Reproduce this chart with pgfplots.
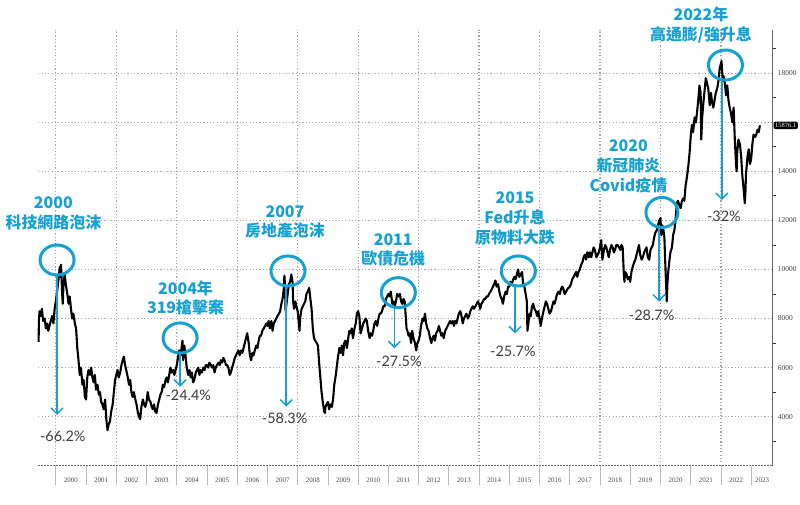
\documentclass[border=0pt]{standalone}
\usepackage{pgfplots}
\pgfplotsset{compat=1.18}
\usepackage{pgfplotstable}
\usetikzlibrary{arrows.meta}
\usepackage{fontspec}
\setmainfont{Liberation Serif}
\newfontfamily\cjk{Noto Sans CJK TC}
\newfontfamily\pctfont{Lato}
\definecolor{ann}{RGB}{20,160,210}
\definecolor{pctgray}{RGB}{60,60,60}
\definecolor{gridgray}{RGB}{165,165,165}

\pgfplotstableread{
x y
1999.43 7050
1999.44 7900
1999.46 8300
1999.50 8100
1999.54 8400
1999.58 7900
1999.63 8000
1999.67 7600
1999.71 7800
1999.75 7500
1999.79 7700
1999.83 7900
1999.88 8100
1999.92 7800
1999.96 8400
2000.00 8700
2000.04 9100
2000.08 9500
2000.13 10100
2000.15 9700
2000.17 10200
2000.21 9000
2000.23 8600
2000.25 9300
2000.29 9800
2000.33 9400
2000.38 9000
2000.42 8600
2000.46 8900
2000.50 8400
2000.54 8000
2000.58 8200
2000.63 7800
2000.67 7600
2000.71 6800
2000.75 6300
2000.79 5700
2000.83 6000
2000.88 5300
2000.92 5500
2000.96 4800
2001.00 4700
2001.04 5600
2001.08 5900
2001.13 5700
2001.17 6000
2001.21 5600
2001.25 5400
2001.29 5700
2001.33 5100
2001.38 5300
2001.42 4900
2001.46 5000
2001.50 4600
2001.54 4500
2001.58 4300
2001.63 4700
2001.67 3900
2001.71 3450
2001.75 3700
2001.79 3800
2001.83 4200
2001.88 4500
2001.92 5000
2001.96 5500
2002.00 5700
2002.04 5900
2002.08 5600
2002.13 5800
2002.17 6100
2002.21 6300
2002.25 6450
2002.29 6100
2002.33 5900
2002.38 5600
2002.42 5300
2002.46 5500
2002.50 5000
2002.54 4800
2002.58 5000
2002.63 4700
2002.67 4500
2002.71 4200
2002.75 4000
2002.79 3900
2002.83 4400
2002.88 4700
2002.92 4500
2002.96 4400
2003.00 4600
2003.04 5000
2003.08 4700
2003.13 4600
2003.17 4400
2003.21 4300
2003.25 4500
2003.29 4200
2003.33 4150
2003.38 4500
2003.42 4700
2003.46 4900
2003.50 5000
2003.54 5300
2003.58 5200
2003.63 5500
2003.67 5600
2003.71 5400
2003.75 5700
2003.79 6000
2003.83 5800
2003.88 5900
2003.92 5700
2003.96 5900
2004.00 6100
2004.04 6400
2004.08 6700
2004.13 6500
2004.17 6900
2004.19 7100
2004.21 6300
2004.23 6800
2004.25 6900
2004.29 6500
2004.33 6000
2004.38 5700
2004.42 5900
2004.46 5600
2004.50 5800
2004.54 5400
2004.58 5500
2004.63 5800
2004.67 5900
2004.71 6000
2004.75 5700
2004.79 5900
2004.83 5800
2004.88 6000
2004.92 5900
2004.96 6100
2005.00 6100
2005.04 6000
2005.08 6200
2005.13 6100
2005.17 6000
2005.21 6100
2005.25 5800
2005.29 6000
2005.33 6100
2005.38 6200
2005.42 6100
2005.46 6300
2005.50 6200
2005.54 6400
2005.58 6300
2005.63 6100
2005.67 6100
2005.71 6000
2005.75 5700
2005.79 5800
2005.83 6000
2005.88 6200
2005.92 6400
2005.96 6500
2006.00 6600
2006.04 6700
2006.08 6500
2006.13 6700
2006.17 6600
2006.21 6800
2006.25 7000
2006.29 7200
2006.33 7400
2006.38 7000
2006.42 6500
2006.46 6300
2006.50 6600
2006.54 6500
2006.58 6700
2006.63 6900
2006.67 6800
2006.71 7100
2006.75 7300
2006.79 7300
2006.83 7500
2006.88 7600
2006.92 7700
2006.96 7800
2007.00 7700
2007.04 7900
2007.08 7600
2007.13 7900
2007.17 7500
2007.21 7800
2007.25 7900
2007.29 8000
2007.33 8100
2007.38 8200
2007.42 8300
2007.46 8600
2007.50 8800
2007.54 9200
2007.56 9750
2007.58 9400
2007.60 8300
2007.63 8600
2007.67 9000
2007.71 9400
2007.75 9500
2007.79 9800
2007.83 9500
2007.85 8700
2007.88 8400
2007.92 8700
2007.96 8500
2008.00 8300
2008.04 7800
2008.06 7500
2008.08 8000
2008.13 8400
2008.17 8500
2008.21 8600
2008.25 8700
2008.29 9000
2008.33 9100
2008.38 9250
2008.42 8800
2008.46 8400
2008.50 7600
2008.54 7200
2008.58 7100
2008.63 7000
2008.67 6900
2008.71 6200
2008.75 5600
2008.79 5000
2008.83 4600
2008.88 4200
2008.90 4150
2008.92 4400
2008.96 4500
2009.00 4600
2009.04 4300
2009.08 4500
2009.13 4400
2009.17 4700
2009.21 5300
2009.25 5600
2009.29 6000
2009.33 6400
2009.38 6800
2009.42 6600
2009.46 6900
2009.50 6500
2009.54 7000
2009.58 7100
2009.63 6800
2009.67 7200
2009.71 7500
2009.75 7400
2009.79 7600
2009.83 7200
2009.88 7600
2009.92 7800
2009.96 8200
2010.00 8300
2010.04 8100
2010.08 7400
2010.13 7600
2010.17 7800
2010.21 7900
2010.25 8000
2010.29 7900
2010.33 7500
2010.38 7200
2010.42 7400
2010.46 7300
2010.50 7500
2010.54 7800
2010.58 7900
2010.63 7700
2010.67 8000
2010.71 8200
2010.75 8200
2010.79 8300
2010.83 8500
2010.88 8500
2010.92 8800
2010.96 8900
2011.00 9000
2011.04 8900
2011.08 9100
2011.13 8600
2011.17 8700
2011.21 8500
2011.25 8700
2011.29 9000
2011.33 8900
2011.38 9000
2011.42 8700
2011.46 8600
2011.50 8800
2011.54 8700
2011.58 8000
2011.60 7600
2011.63 7500
2011.67 7300
2011.71 7400
2011.75 7000
2011.79 7500
2011.83 7200
2011.88 7000
2011.92 6700
2011.96 7000
2012.00 7100
2012.04 7300
2012.08 7700
2012.13 8000
2012.17 7900
2012.21 8200
2012.25 7800
2012.29 7600
2012.33 7500
2012.38 7200
2012.42 7000
2012.46 7200
2012.50 7300
2012.54 7100
2012.58 7400
2012.63 7500
2012.67 7700
2012.71 7500
2012.75 7300
2012.79 7400
2012.83 7200
2012.88 7500
2012.92 7600
2012.96 7700
2013.00 7800
2013.04 7900
2013.08 7800
2013.13 7900
2013.17 7700
2013.21 7900
2013.25 7800
2013.29 8000
2013.33 8200
2013.38 8300
2013.42 8100
2013.46 7800
2013.50 8000
2013.54 8100
2013.58 8200
2013.63 8000
2013.67 8100
2013.71 8300
2013.75 8400
2013.79 8500
2013.83 8400
2013.88 8500
2013.92 8600
2013.96 8700
2014.00 8600
2014.04 8400
2014.08 8600
2014.13 8700
2014.17 8800
2014.21 8800
2014.25 8900
2014.29 8900
2014.33 9000
2014.38 9100
2014.42 9200
2014.46 9300
2014.50 9400
2014.54 9550
2014.58 9300
2014.63 9400
2014.67 9100
2014.71 8900
2014.75 8800
2014.79 8600
2014.83 8900
2014.88 9100
2014.92 9000
2014.96 9300
2015.00 9300
2015.04 9500
2015.08 9400
2015.13 9600
2015.17 9700
2015.21 9600
2015.25 9800
2015.29 10000
2015.33 9700
2015.38 9800
2015.42 9900
2015.46 9400
2015.50 9300
2015.54 9000
2015.58 8700
2015.60 7500
2015.63 7800
2015.67 8200
2015.71 8100
2015.75 8500
2015.79 8600
2015.83 8400
2015.88 8300
2015.92 8100
2015.96 8300
2016.00 8000
2016.04 7700
2016.08 8000
2016.13 8300
2016.17 8500
2016.21 8700
2016.25 8600
2016.29 8400
2016.33 8200
2016.38 8300
2016.42 8500
2016.46 8700
2016.50 8600
2016.54 8800
2016.58 9000
2016.63 9100
2016.67 9000
2016.71 9200
2016.75 9300
2016.79 9200
2016.83 9000
2016.88 9100
2016.92 9200
2016.96 9250
2017.00 9300
2017.04 9400
2017.08 9600
2017.13 9700
2017.17 9800
2017.21 9900
2017.25 9700
2017.29 9900
2017.33 10000
2017.38 10200
2017.42 10300
2017.46 10500
2017.50 10600
2017.54 10400
2017.58 10700
2017.63 10500
2017.67 10700
2017.71 10500
2017.75 10700
2017.79 10900
2017.83 10800
2017.88 10500
2017.92 10600
2017.96 10700
2018.00 10900
2018.04 11200
2018.08 10400
2018.13 10800
2018.17 11000
2018.21 10900
2018.25 10700
2018.29 10500
2018.33 10800
2018.38 11000
2018.42 10900
2018.46 10700
2018.50 10800
2018.54 11000
2018.58 11000
2018.63 10900
2018.67 10800
2018.71 11000
2018.75 10900
2018.79 9800
2018.81 9500
2018.83 9900
2018.88 9800
2018.92 9600
2018.96 9700
2019.00 9500
2019.04 9900
2019.08 10100
2019.13 10300
2019.17 10400
2019.21 10600
2019.25 10800
2019.29 11000
2019.33 10600
2019.38 10400
2019.42 10500
2019.46 10700
2019.50 10800
2019.54 10900
2019.58 10500
2019.63 10400
2019.67 10800
2019.71 10900
2019.75 11000
2019.79 11300
2019.83 11500
2019.88 11600
2019.92 11800
2019.96 12000
2020.00 12100
2020.03 11400
2020.06 11800
2020.10 11600
2020.13 11300
2020.17 9900
2020.21 8700
2020.23 9400
2020.25 9800
2020.29 10300
2020.33 10700
2020.38 10900
2020.42 11400
2020.46 11600
2020.50 12000
2020.54 12700
2020.58 12800
2020.63 12600
2020.67 12500
2020.71 12800
2020.75 12900
2020.79 12800
2020.83 13400
2020.88 13800
2020.92 14200
2020.96 14700
2021.00 15400
2021.04 15900
2021.08 15600
2021.13 16200
2021.17 16000
2021.21 16400
2021.25 16900
2021.29 17500
2021.33 17200
2021.35 15300
2021.38 16200
2021.42 16800
2021.46 17300
2021.50 17800
2021.54 17600
2021.58 17400
2021.63 16700
2021.67 17200
2021.71 16800
2021.75 16600
2021.79 16900
2021.83 17200
2021.88 17400
2021.92 17700
2021.96 18200
2022.00 18400
2022.02 18500
2022.06 17700
2022.08 17900
2022.13 17600
2022.17 17100
2022.21 17500
2022.25 16900
2022.29 16600
2022.33 16400
2022.38 16000
2022.42 16600
2022.46 15300
2022.50 14300
2022.52 14000
2022.54 14800
2022.58 15300
2022.63 15100
2022.67 14600
2022.71 13800
2022.75 13300
2022.79 12700
2022.81 13100
2022.83 13900
2022.88 14600
2022.92 14900
2022.96 14300
2023.00 14500
2023.04 15100
2023.08 15500
2023.13 15400
2023.17 15500
2023.21 15700
2023.25 15600
2023.29 15876
}\taiex

\begin{document}
\begin{tikzpicture}
\path[use as bounding box] (0,0) rectangle (800bp,505bp);
\begin{axis}[
  at={(38.3bp,39.3bp)}, anchor=south west,
  scale only axis, width=734.6bp, height=435.7bp,
  xmin=1999.42, xmax=2023.72, ymin=2000, ymax=19765,
  clip=false,
  axis x line*=bottom, axis y line*=right,
  x axis line style={draw=gray!85!black, dash pattern=on 2bp off 1bp, line width=0.9bp},
  y axis line style={draw=gray!80!black, line width=1.1bp},
  tick align=outside,
  major tick length=0pt, minor tick length=19bp,
  xtick={2000,2002,...,2022}, xticklabels={},
  minor xtick={2000,2001,...,2023},
  minor tick style={draw=gray!55, line width=0.8bp},
  xmajorgrids=true,
  major grid style={draw=gridgray, line width=1.2bp, dash pattern=on 1.2bp off 2.1bp},
  extra x ticks={2000.5,2001.5,2002.5,2003.5,2004.5,2005.5,2006.5,2007.5,2008.5,2009.5,2010.5,2011.5,2012.5,2013.5,2014.5,2015.5,2016.5,2017.5,2018.5,2019.5,2020.5,2021.5,2022.5,2023.36},
  extra x tick labels={2000,2001,2002,2003,2004,2005,2006,2007,2008,2009,2010,2011,2012,2013,2014,2015,2016,2017,2018,2019,2020,2021,2022,2023},
  extra x tick style={xmajorgrids=false, xticklabel style={yshift=-9bp}},
  xticklabel style={font=\fontsize{7}{8}\selectfont, text=black!70},
  ytick={4000,6000,...,18000},
  yticklabels={4000,6000,8000,10000,12000,14000,,18000},
  extra y ticks={3000,5000,...,19000},
  extra y tick labels={},
  extra y tick style={ymajorgrids=false, major tick length=3bp, tick style={draw=black!80, line width=0.9bp}},
  scaled y ticks=false,
  yticklabel pos=right,
  yticklabel style={font=\fontsize{7.5}{8}\selectfont, text=black!75, xshift=1.5bp},
  /pgf/number format/assume math mode=true,
  /pgf/number format/1000 sep={},
]
% horizontal grid lines
\begin{scope}[every path/.style={}]
\addplot[forget plot, draw=gridgray, line width=1.2bp, dash pattern=on 1.2bp off 2.1bp] coordinates {(1999.42,4000) (2023.72,4000)};
\addplot[forget plot, draw=gridgray, line width=1.2bp, dash pattern=on 1.2bp off 2.1bp] coordinates {(1999.42,6000) (2023.72,6000)};
\addplot[forget plot, draw=gridgray, line width=1.2bp, dash pattern=on 1.2bp off 2.1bp] coordinates {(1999.42,8000) (2023.72,8000)};
\addplot[forget plot, draw=gridgray, line width=1.2bp, dash pattern=on 1.2bp off 2.1bp] coordinates {(1999.42,10000) (2023.72,10000)};
\addplot[forget plot, draw=gridgray, line width=1.2bp, dash pattern=on 1.2bp off 2.1bp] coordinates {(1999.42,12000) (2023.72,12000)};
\addplot[forget plot, draw=gridgray, line width=1.2bp, dash pattern=on 1.2bp off 2.1bp] coordinates {(1999.42,14000) (2023.72,14000)};
\addplot[forget plot, draw=gridgray, line width=1.2bp, dash pattern=on 1.2bp off 2.1bp] coordinates {(1999.42,16000) (2023.72,16000)};
\addplot[forget plot, draw=gridgray, line width=1.2bp, dash pattern=on 1.2bp off 2.1bp] coordinates {(1999.42,18000) (2023.72,18000)};
\end{scope}

\addplot[black, line width=2.1bp, line join=round] table[x=x, y=y] {\taiex};

% value box
\node[fill=black, text=white, font=\fontsize{6.5}{7}\selectfont, inner sep=1.6bp, anchor=west, rounded corners=2bp] at (axis cs:2023.72,15876) [xshift=0.5bp] {15876.1};

% circles
\begin{scope}[ann, line width=3bp]
\draw (axis cs:2000.04,10388) ellipse [x radius=17bp, y radius=15bp];
\draw (axis cs:2004.11,7208) ellipse [x radius=17bp, y radius=15bp];
\draw (axis cs:2007.68,9940) ellipse [x radius=17bp, y radius=15bp];
\draw (axis cs:2011.33,9055) ellipse [x radius=17bp, y radius=15bp];
\draw (axis cs:2015.30,9940) ellipse [x radius=17bp, y radius=15bp];
\draw (axis cs:2020.05,12325) ellipse [x radius=16bp, y radius=15bp];
\draw (axis cs:2022.15,18338) ellipse [x radius=17bp, y radius=15bp];
\end{scope}

% arrows
\begin{scope}[ann, line width=1.5bp, -{Straight Barb[length=6bp,width=12bp]}]
\draw (axis cs:2000.04,9750) -- (axis cs:2000.04,4069);
\draw (axis cs:2004.11,6597) -- (axis cs:2004.11,5222);
\draw (axis cs:2007.62,9328) -- (axis cs:2007.62,4407);
\draw (axis cs:2011.20,8431) -- (axis cs:2011.20,6788);
\draw (axis cs:2015.19,9287) -- (axis cs:2015.19,7396);
\draw (axis cs:2019.95,11693) -- (axis cs:2019.95,8689);
\draw (axis cs:2022.03,17727) -- (axis cs:2022.03,12835);
\end{scope}

% percent labels
\begin{scope}[every node/.style={text=pctgray, font=\pctfont\fontsize{14.5}{17}\selectfont, inner sep=0pt}]
\node at (axis cs:2000.23,3184) {-66.2\%};
\node at (axis cs:2004.38,4884) {-24.4\%};
\node at (axis cs:2007.57,3935) {-58.3\%};
\node at (axis cs:2011.35,6242) {-27.5\%};
\node at (axis cs:2015.12,6650) {-25.7\%};
\node at (axis cs:2019.71,8146) {-28.7\%};
\node at (axis cs:2022.10,12182) {-32\%};
\end{scope}

% titles
\begin{scope}[every node/.style={text=ann, font=\cjk\bfseries\fontsize{16}{20}\selectfont, align=center, inner sep=0pt}]
\node at (axis cs:1999.92,12304) {2000\\科技網路泡沫};
\node at (axis cs:2004.29,8839) {2004年\\319槍擊案};
\node at (axis cs:2007.58,11937) {2007\\房地產泡沫};
\node at (axis cs:2011.16,10796) {2011\\歐債危機};
\node at (axis cs:2015.19,12088) {2015\\Fed升息\\原物料大跌};
\node at (axis cs:2018.94,14192) {2020\\新冠肺炎\\Covid疫情};
\node at (axis cs:2021.34,19969) {2022年\\高通膨/強升息};
\end{scope}
\end{axis}
\end{tikzpicture}
\end{document}
